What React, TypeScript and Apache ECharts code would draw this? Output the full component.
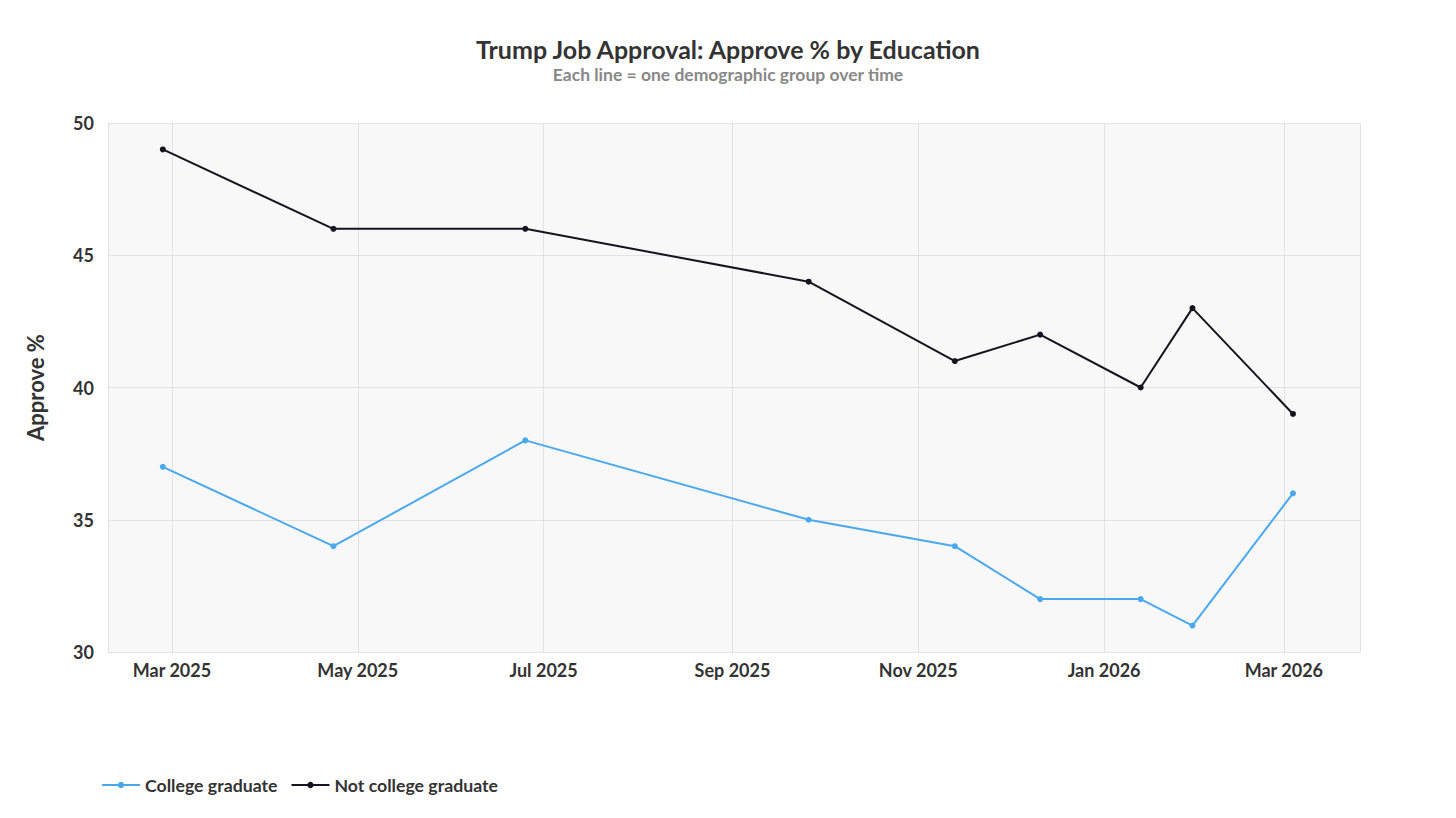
import React, { useEffect, useRef } from "react";
import * as echarts from "echarts";

const dates = [
  "2025-02-26",
  "2025-04-23",
  "2025-06-25",
  "2025-09-26",
  "2025-11-13",
  "2025-12-11",
  "2026-01-13",
  "2026-01-30",
  "2026-03-04",
];
const collegeGrad = [37, 34, 38, 35, 34, 32, 32, 31, 36];
const notCollegeGrad = [49, 46, 46, 44, 41, 42, 40, 43, 39];
const monthNames = ["Jan", "Feb", "Mar", "Apr", "May", "Jun", "Jul", "Aug", "Sep", "Oct", "Nov", "Dec"];
const yTicks = { min: 30, max: 50, interval: 5 };

const FONT = "Lato, 'Noto Sans', sans-serif";

export default function App() {
  const ref = useRef<HTMLDivElement>(null);
  useEffect(() => {
    document.body.style.margin = "0";
    const chart = echarts.init(ref.current!, null, { renderer: "svg" });
    const toPairs = (vals: number[]) => dates.map((d, i) => [d, vals[i]]);
    chart.setOption({
      animation: false,
      backgroundColor: "#ffffff",
      textStyle: { fontFamily: FONT },
      title: {
        text: "Trump Job Approval: Approve % by Education",
        subtext: "Each line = one demographic group over time",
        left: "center",
        top: 31,
        itemGap: 4,
        textStyle: { fontFamily: FONT, fontSize: 25, fontWeight: "bold", color: "#333333" },
        subtextStyle: { fontFamily: FONT, fontSize: 17.5, fontWeight: "bold", color: "#888888" },
      },
      legend: {
        left: 96,
        top: 771,
        itemWidth: 38,
        itemHeight: 8,
        itemGap: 13,
        textStyle: { fontFamily: FONT, fontSize: 17.7, fontWeight: "bold", color: "#333333" },
      },
      grid: {
        left: 108,
        right: 96,
        top: 123,
        bottom: 166,
        show: true,
        backgroundColor: "#f8f8f8",
        borderWidth: 0,
      },
      xAxis: {
        type: "time",
        min: "2025-02-08",
        max: "2026-03-26",
        axisLine: { show: true, lineStyle: { color: "#e2e2e2" } },
        axisTick: { show: false },
        minorTick: { show: false },
        splitLine: { show: true, lineStyle: { color: "#e2e2e2", width: 1 } },
        axisLabel: {
          fontFamily: FONT,
          fontSize: 18,
          fontWeight: "bold",
          color: "#333333",
          margin: 9,
          hideOverlap: false,
          formatter: (v: number) => {
            const d = new Date(v);
            return monthNames[d.getMonth()] + " " + d.getFullYear();
          },
        },
      },
      yAxis: {
        type: "value",
        min: yTicks.min,
        max: yTicks.max,
        interval: yTicks.interval,
        name: "Approve %",
        nameLocation: "middle",
        nameGap: 62,
        nameTextStyle: { fontFamily: FONT, fontSize: 22, fontWeight: "bold", color: "#333333" },
        axisLine: { show: false },
        axisTick: { show: false },
        splitLine: { show: true, lineStyle: { color: "#e2e2e2", width: 1 } },
        axisLabel: {
          fontFamily: FONT,
          fontSize: 18,
          fontWeight: "bold",
          color: "#333333",
          margin: 14,
        },
      },
      series: [
        {
          name: "College graduate",
          type: "line",
          data: toPairs(collegeGrad),
          symbol: "circle",
          symbolSize: 6,
          color: "#4aa9ee",
          lineStyle: { width: 2, color: "#4aa9ee" },
          itemStyle: { color: "#4aa9ee" },
        },
        {
          name: "Not college graduate",
          type: "line",
          data: toPairs(notCollegeGrad),
          symbol: "circle",
          symbolSize: 6,
          color: "#14141f",
          lineStyle: { width: 2, color: "#14141f" },
          itemStyle: { color: "#14141f" },
        },
      ],
    });
    return () => chart.dispose();
  }, []);
  return <div ref={ref} style={{ width: 1456, height: 818 }} />;
}
